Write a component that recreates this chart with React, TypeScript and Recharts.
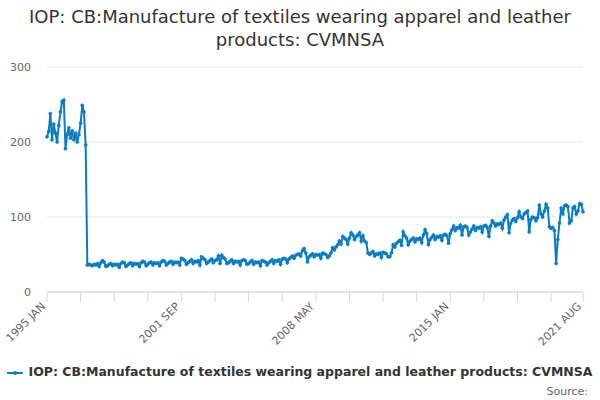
import React from 'react'
import { LineChart, Line, XAxis, YAxis, CartesianGrid } from 'recharts'

const START_YEAR = 1995
const MONTHS = ['JAN', 'FEB', 'MAR', 'APR', 'MAY', 'JUN', 'JUL', 'AUG', 'SEP', 'OCT', 'NOV', 'DEC']

// monthly index values, grouped by period
const values1995to1999 = [
  207, 214, 238, 203, 224, 212, 200, 222, 240, 254, 256, 191,
  210, 219, 205, 215, 203, 212, 200, 210, 225, 249, 240, 196,
  36, 37, 36, 35, 37, 36, 38, 34, 39, 42, 40, 34,
  35, 37, 38, 35, 37, 36, 37, 33, 38, 40, 39, 34,
  36, 38, 39, 35, 38, 37, 38, 34, 39, 41, 40, 35,
]
const values2000to2004 = [
  37, 39, 40, 36, 39, 38, 39, 35, 40, 42, 41, 36,
  38, 40, 41, 37, 40, 39, 40, 36, 45, 44, 42, 37,
  39, 41, 43, 38, 41, 40, 42, 36, 47, 45, 43, 38,
  40, 42, 44, 39, 42, 43, 48, 38, 49, 46, 44, 38,
  39, 41, 43, 38, 41, 40, 41, 36, 42, 43, 42, 37,
]
const values2005to2009 = [
  38, 40, 42, 37, 40, 39, 40, 35, 42, 41, 40, 36,
  39, 41, 43, 38, 42, 41, 43, 37, 44, 45, 44, 39,
  44, 46, 48, 45, 49, 50, 51, 48, 55, 58, 52, 40,
  47, 49, 51, 47, 50, 49, 50, 45, 52, 51, 50, 46,
  48, 52, 59, 56, 60, 63, 68, 64, 74, 72, 70, 64,
]
const values2010to2014 = [
  72, 79, 76, 70, 74, 76, 79, 68, 75, 68, 66, 52,
  50, 52, 54, 48, 51, 50, 52, 46, 53, 52, 51, 47,
  47, 52, 63, 60, 65, 67, 69, 62, 80, 75, 72, 63,
  68, 70, 72, 67, 71, 70, 72, 66, 76, 83, 78, 63,
  70, 73, 76, 70, 74, 73, 75, 69, 76, 77, 75, 65,
]
const values2015to2019 = [
  78, 83, 88, 82, 86, 85, 89, 76, 87, 88, 86, 76,
  80, 84, 88, 82, 86, 85, 87, 80, 88, 89, 86, 74,
  88, 95, 92, 88, 91, 90, 92, 85, 96, 100, 103, 79,
  92, 96, 98, 94, 99, 107, 100, 98, 104, 106, 108, 80,
  97, 100, 99, 95, 99, 116, 104, 100, 108, 117, 112, 87,
]
const values2020to2021 = [
  85, 86, 82, 38, 70, 92, 112, 104, 115, 116, 114, 92,
  95, 112, 114, 104, 108, 118, 117, 107,
]

const yTicks = [0, 100, 200, 300]
const labelEvery = 80 // a label every 80 months, a tick every 20
const tickEvery = 20

const SERIES_NAME = 'IOP: CB:Manufacture of textiles wearing apparel and leather products: CVMNSA'
const COLOR = '#0a7cc1'
const FONT = '"DejaVu Sans", Verdana, sans-serif'

const allValues = [
  ...values1995to1999, ...values2000to2004, ...values2005to2009,
  ...values2010to2014, ...values2015to2019, ...values2020to2021,
]
const data = allValues.map((value, i) => ({
  label: `${START_YEAR + Math.floor(i / 12)} ${MONTHS[i % 12]}`,
  value,
}))
const lastIndex = data.length - 1
const tickIdx = data.map((_, i) => i).filter(i => i % tickEvery === 0 || i === lastIndex)
const xTicks = tickIdx.map(i => data[i].label)
const shownLabels = new Set(
  tickIdx.filter(i => i % labelEvery === 0 || i === lastIndex).map(i => data[i].label)
)

const XTick = ({ x, y, payload }: any) => {
  if (!shownLabels.has(payload.value)) return null
  const tx = x - 1
  const ty = y + 3
  return (
    <text x={tx} y={ty} transform={`rotate(-45, ${tx}, ${ty})`} textAnchor="end"
      fontSize={11} fill="#666666" fontFamily={FONT}>
      {payload.value}
    </text>
  )
}

export default function App() {
  return (
    <div style={{ position: 'absolute', left: 0, top: 0, width: 600, height: 400, background: '#fff', fontFamily: FONT }}>
      <div style={{ position: 'absolute', top: 5, left: 0, width: 600, textAlign: 'center', fontSize: 18, lineHeight: '23px', color: '#333333' }}>
        IOP: CB:Manufacture of textiles wearing apparel and leather<br />products: CVMNSA
      </div>
      <div style={{ position: 'absolute', top: 0, left: 0 }}>
        <LineChart width={600} height={400} data={data} margin={{ top: 67, right: 17, bottom: 0, left: 0 }}>
          <CartesianGrid vertical={false} stroke="#e6e6e6" />
          <XAxis dataKey="label" ticks={xTicks} interval={0} tick={<XTick />} tickSize={10}
            tickLine={{ stroke: '#ccd6eb' }} axisLine={{ stroke: '#ccd6eb' }} height={108} />
          <YAxis domain={[0, 300]} ticks={yTicks} width={47} axisLine={false} tickLine={false}
            tickSize={0} tickMargin={16} tick={{ fontSize: 11, fill: '#666666', fontFamily: FONT }} />
          <Line type="linear" dataKey="value" stroke={COLOR} strokeWidth={2}
            dot={{ r: 1.6, fill: COLOR, stroke: COLOR, strokeWidth: 0.5 }} isAnimationActive={false} />
        </LineChart>
      </div>
      <div style={{ position: 'absolute', top: 364, left: 0, width: 600, textAlign: 'center', fontSize: 12.5, fontWeight: 'bold', color: '#333333', whiteSpace: 'nowrap' }}>
        <svg width={16} height={10} style={{ marginRight: 5, verticalAlign: 'middle' }}>
          <line x1={0} y1={5} x2={16} y2={5} stroke={COLOR} strokeWidth={2} />
          <circle cx={8} cy={5} r={2} fill={COLOR} />
        </svg>
        {SERIES_NAME}
      </div>
      <div style={{ position: 'absolute', top: 385, right: 12, fontSize: 11, color: '#666666' }}>Source:</div>
    </div>
  )
}
